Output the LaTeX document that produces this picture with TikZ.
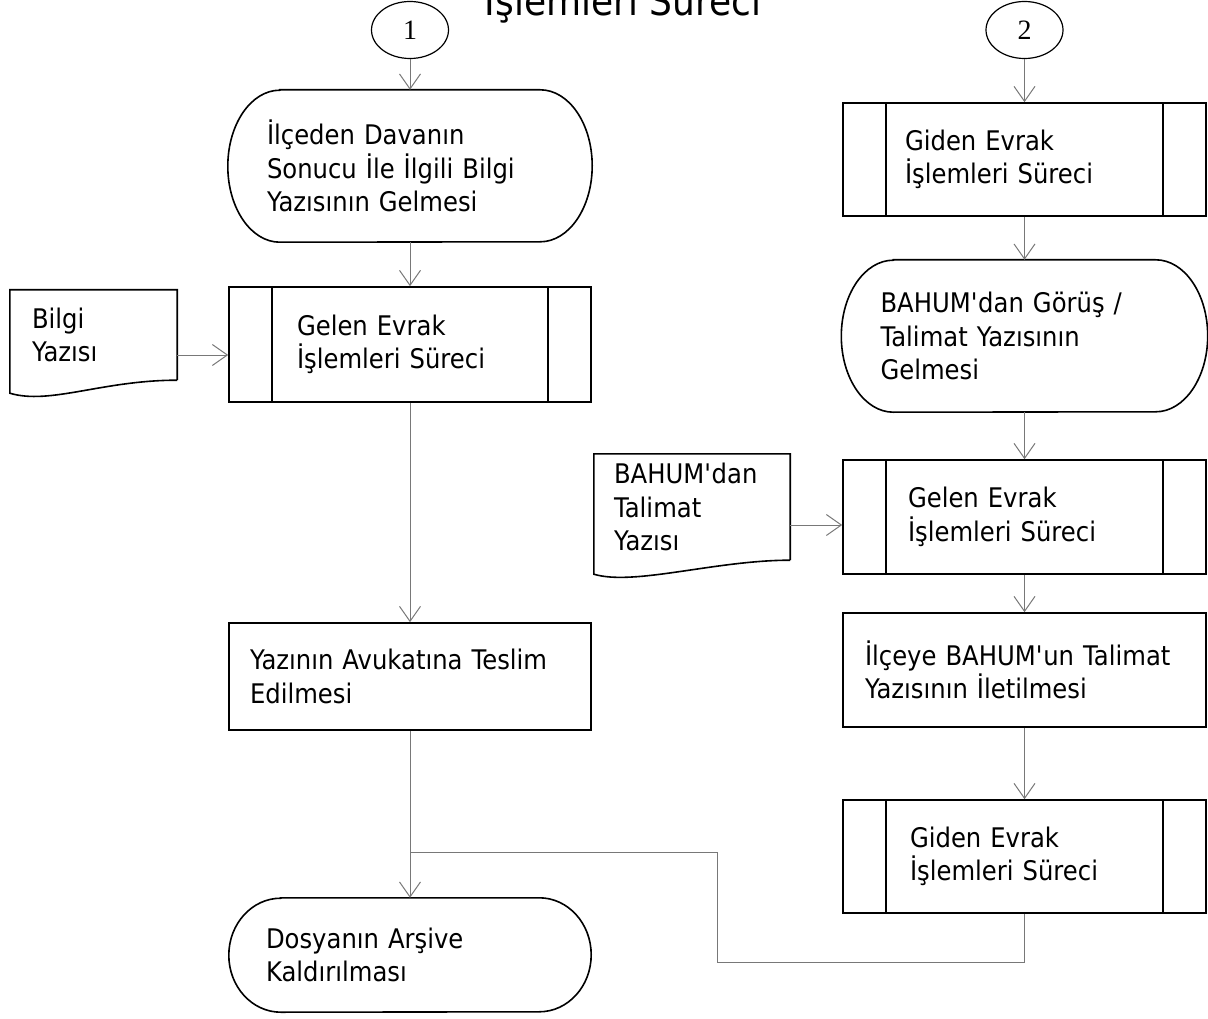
\documentclass[tikz,border=0pt]{standalone}
\usepackage{fontspec}
\setmainfont{DejaVu Sans}[FakeStretch=0.9]
\newfontfamily\numfont{Liberation Serif}
\usepackage{tikz}
\usetikzlibrary{arrows.meta,shapes.geometric,calc}
\definecolor{linegray}{RGB}{120,120,120}

\newcommand{\termline}[3]{%
  \draw[outline] ([xshift=#2]#1.north west) -- ([xshift=-#2]#1.north east)
    arc[start angle=90,end angle=-90,x radius=#2,y radius=#3]
    -- ([xshift=#2]#1.south west)
    arc[start angle=270,end angle=90,x radius=#2,y radius=#3] -- cycle;}
\newcommand{\sidebars}[1]{%
  \draw[outline] ([xshift=44]#1.north west) -- ([xshift=44]#1.south west);
  \draw[outline] ([xshift=-44]#1.north east) -- ([xshift=-44]#1.south east);}
\newcommand{\docline}[2]{%
  \draw[outline] (#1.south east) -- (#1.north east) -- (#1.north west) -- ([yshift=-#2]#1.south west)
    .. controls +(40,-12) and +(-75,0) .. (#1.south east);}

\begin{document}
\begin{tikzpicture}[x=1pt,y=1pt,
    every node/.style={font=\fontsize{27}{33.5}\selectfont},
    outline/.style={black,line width=1.6pt},
    flow/.style={linegray,line width=1pt,-{Straight Barb[length=15pt,width=21pt]}},
    feed/.style={linegray,line width=1pt},
    txt/.style={align=left,inner ysep=0pt},
    boxed/.style={txt,draw,outline},
    connector/.style={ellipse,draw,line width=1.2pt,minimum width=77pt,minimum height=57pt,inner sep=0pt,font=\numfont\fontsize{28}{30}\selectfont}]
  \useasboundingbox (0,0) rectangle (1208,-1019);

  \node[font=\fontsize{40}{42}\selectfont,anchor=base] (title) at (623,-16) {İşlemleri Süreci};

  \node[connector] (c1) at (410,-30) {1};
  \node[txt,text width=286pt,inner xsep=39pt,minimum height=152pt] (term1) at (410,-166) {İlçeden Davanın\\Sonucu İle İlgili Bilgi\\Yazısının Gelmesi};
  \node[boxed,text width=226pt,inner xsep=68pt,minimum height=115pt] (gelen1) at (410,-344.5) {Gelen Evrak\\İşlemleri Süreci};
  \node[txt,text width=123pt,inner xsep=22pt,minimum height=90pt] (doc1) at (93.5,-335) {Bilgi\\Yazısı};
  \node[boxed,text width=320pt,inner xsep=21pt,minimum height=107pt] (proc1) at (410,-676.5) {Yazının Avukatına Teslim\\Edilmesi};
  \node[txt,text width=288pt,inner xsep=37pt,minimum height=114pt] (term3) at (410,-955) {Dosyanın Arşive\\Kaldırılması};

  \node[connector] (c2) at (1024.5,-30) {2};
  \node[boxed,text width=239pt,inner xsep=62pt,minimum height=113pt] (giden1) at (1024.5,-159.5) {Giden Evrak\\İşlemleri Süreci};
  \node[txt,text width=288pt,inner xsep=39pt,minimum height=152pt] (term2) at (1024.5,-336) {BAHUM\textquotesingle dan Görüş /\\Talimat Yazısının\\Gelmesi};
  \node[boxed,text width=233pt,inner xsep=65pt,minimum height=114pt] (gelen2) at (1024.5,-517) {Gelen Evrak\\İşlemleri Süreci};
  \node[txt,text width=156pt,inner xsep=20pt,minimum height=106pt] (doc2) at (692,-507) {BAHUM\textquotesingle dan\\Talimat\\Yazısı};
  \node[boxed,text width=319pt,inner xsep=22pt,minimum height=114pt] (proc2) at (1024.5,-670) {İlçeye BAHUM\textquotesingle un Talimat\\Yazısının İletilmesi};
  \node[boxed,text width=229pt,inner xsep=67pt,minimum height=113pt] (giden2) at (1024.5,-856.5) {Giden Evrak\\İşlemleri Süreci};

  \termline{term1}{52}{76}
  \termline{term2}{52}{76}
  \termline{term3}{52}{57}
  \sidebars{gelen1}
  \sidebars{giden1}
  \sidebars{gelen2}
  \sidebars{giden2}
  \docline{doc1}{13}
  \docline{doc2}{14}

  \draw[flow] (c1.south) -- (term1.north);
  \draw[flow] (term1.south) -- (gelen1.north);
  \draw[flow] (gelen1.south) -- (proc1.north);
  \draw[flow] (proc1.south) -- (term3.north);
  \draw[flow] ([yshift=-20pt]doc1.east) -- ([yshift=-20pt]doc1.east -| gelen1.west);

  \draw[flow] (c2.south) -- (giden1.north);
  \draw[flow] (giden1.south) -- (term2.north);
  \draw[flow] (term2.south) -- (gelen2.north);
  \draw[flow] (gelen2.south) -- (proc2.north);
  \draw[flow] (proc2.south) -- (giden2.north);
  \draw[flow] ([yshift=-18pt]doc2.east) -- ([yshift=-18pt]doc2.east -| gelen2.west);

  \coordinate (jn) at (410,-852);
  \coordinate (bend) at (717,-852);
  \draw[feed] (giden2.south) -- ++(0,-49) -| (bend) -- (jn);
\end{tikzpicture}
\end{document}
